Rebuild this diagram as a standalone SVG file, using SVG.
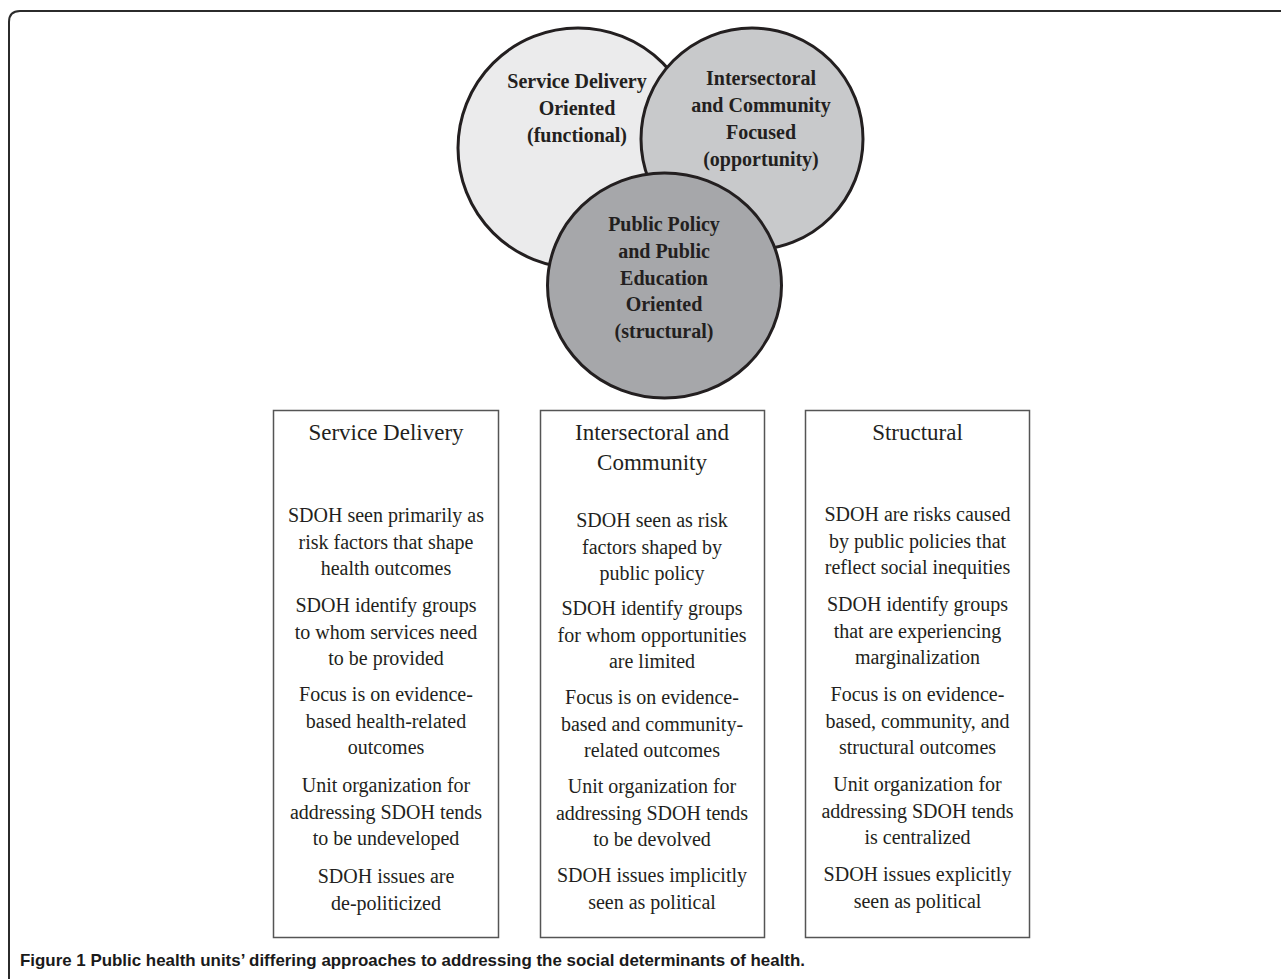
<svg xmlns="http://www.w3.org/2000/svg" width="1281" height="979" viewBox="0 0 1281 979">
<style>
.frame{fill:none;stroke:#2b2b2b;stroke-width:2}
.circ{stroke:#231f20;stroke-width:3}
.ct{font-family:"Liberation Serif","Times New Roman",serif;font-weight:bold;font-size:20px;fill:#231f20;text-anchor:middle}
.box{fill:#fff;stroke:#555;stroke-width:1.5}
.hd{font-family:"Liberation Serif","Times New Roman",serif;font-size:23px;fill:#231f20;text-anchor:middle}
.bt{font-family:"Liberation Serif","Times New Roman",serif;font-size:20px;fill:#231f20;text-anchor:middle}
.cap{font-family:"Liberation Sans",Arial,sans-serif;font-weight:bold;font-size:17px;fill:#1a1a1a}
</style>
<rect width="1281" height="979" fill="#fff"/>
<path class="frame" d="M9,979 V22 Q9,11 20,11 H1281"/>
<g id="circle-service">
<circle class="circ" cx="578" cy="148" r="120" fill="#ebebec"/>
</g>
<g id="circle-intersectoral">
<circle class="circ" cx="752" cy="139" r="111" fill="#c8c9cb"/>
</g>
<g id="circle-structural">
<ellipse class="circ" cx="664.5" cy="285.5" rx="117" ry="112.5" fill="#a6a7aa"/>
</g>
<g id="circle-labels">
<text class="ct" x="577" y="88">Service Delivery<tspan x="577" dy="27">Oriented</tspan><tspan x="577" dy="27">(functional)</tspan></text>
<text class="ct" x="761" y="85">Intersectoral<tspan x="761" dy="27">and Community</tspan><tspan x="761" dy="27">Focused</tspan><tspan x="761" dy="27">(opportunity)</tspan></text>
<text class="ct" x="664" y="231">Public Policy<tspan x="664" dy="26.8">and Public</tspan><tspan x="664" dy="26.8">Education</tspan><tspan x="664" dy="26.8">Oriented</tspan><tspan x="664" dy="26.8">(structural)</tspan></text>
</g>
<g id="connectors"></g>
<g id="box-service">
<rect class="box" x="273.5" y="410.5" width="225" height="527"/>
<text class="hd" x="386" y="440">Service Delivery</text>
<text class="bt" x="386" y="522">SDOH seen primarily as<tspan x="386" dy="26.5">risk factors that shape</tspan><tspan x="386" dy="26.5">health outcomes</tspan></text>
<text class="bt" x="386" y="612">SDOH identify groups<tspan x="386" dy="26.5">to whom services need</tspan><tspan x="386" dy="26.5">to be provided</tspan></text>
<text class="bt" x="386" y="701">Focus is on evidence-<tspan x="386" dy="26.5">based health-related</tspan><tspan x="386" dy="26.5">outcomes</tspan></text>
<text class="bt" x="386" y="792">Unit organization for<tspan x="386" dy="26.5">addressing SDOH tends</tspan><tspan x="386" dy="26.5">to be undeveloped</tspan></text>
<text class="bt" x="386" y="883">SDOH issues are<tspan x="386" dy="26.5">de-politicized</tspan></text>
</g>
<g id="box-intersectoral">
<rect class="box" x="540.5" y="410.5" width="224" height="527"/>
<text class="hd" x="652" y="440">Intersectoral and<tspan x="652" dy="30">Community</tspan></text>
<text class="bt" x="652" y="527">SDOH seen as risk<tspan x="652" dy="26.5">factors shaped by</tspan><tspan x="652" dy="26.5">public policy</tspan></text>
<text class="bt" x="652" y="615">SDOH identify groups<tspan x="652" dy="26.5">for whom opportunities</tspan><tspan x="652" dy="26.5">are limited</tspan></text>
<text class="bt" x="652" y="704">Focus is on evidence-<tspan x="652" dy="26.5">based and community-</tspan><tspan x="652" dy="26.5">related outcomes</tspan></text>
<text class="bt" x="652" y="793">Unit organization for<tspan x="652" dy="26.5">addressing SDOH tends</tspan><tspan x="652" dy="26.5">to be devolved</tspan></text>
<text class="bt" x="652" y="882">SDOH issues implicitly<tspan x="652" dy="26.5">seen as political</tspan></text>
</g>
<g id="box-structural">
<rect class="box" x="805.5" y="410.5" width="224" height="527"/>
<text class="hd" x="917.5" y="440">Structural</text>
<text class="bt" x="917.5" y="521">SDOH are risks caused<tspan x="917.5" dy="26.5">by public policies that</tspan><tspan x="917.5" dy="26.5">reflect social inequities</tspan></text>
<text class="bt" x="917.5" y="611">SDOH identify groups<tspan x="917.5" dy="26.5">that are experiencing</tspan><tspan x="917.5" dy="26.5">marginalization</tspan></text>
<text class="bt" x="917.5" y="701">Focus is on evidence-<tspan x="917.5" dy="26.5">based, community, and</tspan><tspan x="917.5" dy="26.5">structural outcomes</tspan></text>
<text class="bt" x="917.5" y="791">Unit organization for<tspan x="917.5" dy="26.5">addressing SDOH tends</tspan><tspan x="917.5" dy="26.5">is centralized</tspan></text>
<text class="bt" x="917.5" y="881">SDOH issues explicitly<tspan x="917.5" dy="26.5">seen as political</tspan></text>
</g>
<g id="caption">
<text class="cap" x="20" y="966" textLength="785" lengthAdjust="spacingAndGlyphs">Figure 1 Public health units’ differing approaches to addressing the social determinants of health.</text>
</g>
</svg>
